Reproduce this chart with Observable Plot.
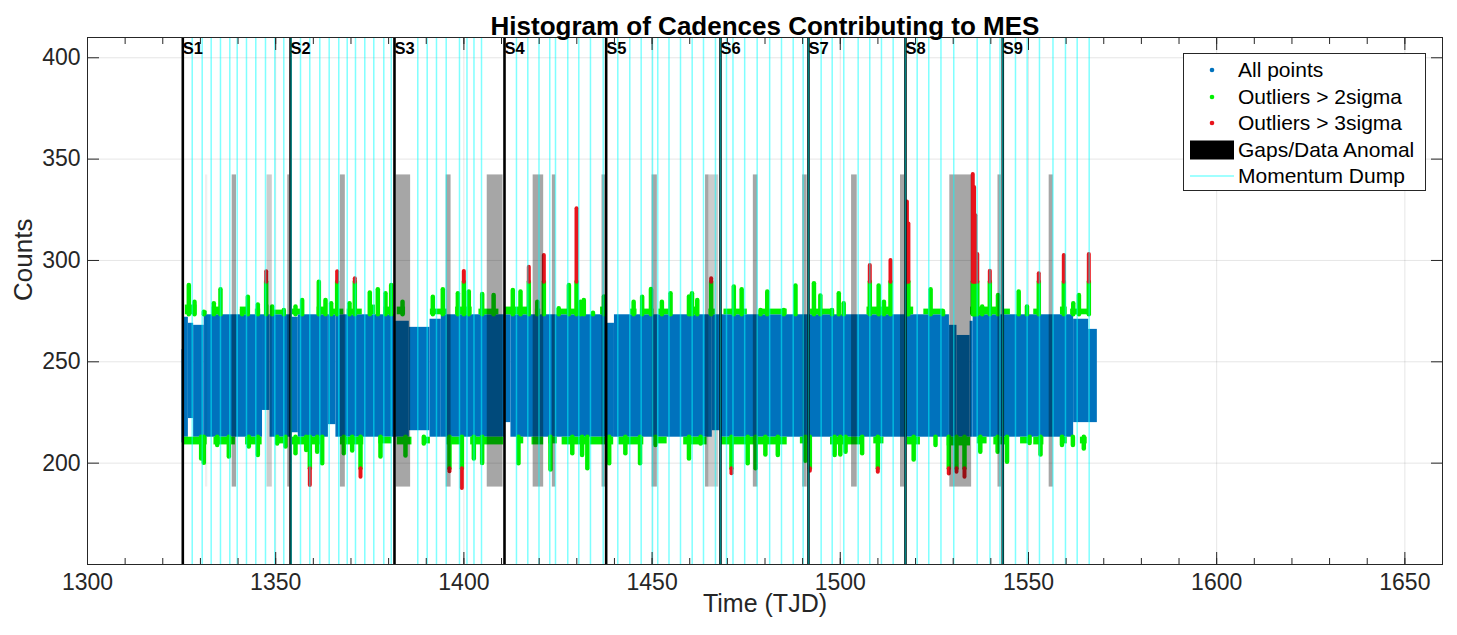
<!DOCTYPE html>
<html>
<head>
<meta charset="utf-8">
<script src="https://cdn.jsdelivr.net/npm/d3@7"></script>
<script src="https://cdn.jsdelivr.net/npm/@observablehq/plot@0.6"></script>
<style>
  html, body { margin: 0; padding: 0; background: #fff; }
  #wrap { position: relative; width: 1457px; height: 635px; font-family: "Liberation Sans", Arial, Helvetica, sans-serif; }
  #legend { position: absolute; left: 1183px; top: 53px; width: 243px; height: 138px; border: 1px solid #262626; background: #fff; box-sizing: border-box; }
  .row { position: absolute; left: 0; height: 26px; width: 100%; font-size: 21px; line-height: 26px; color: #000; white-space: nowrap; overflow: hidden; }
  .row svg { position: absolute; left: 0; top: 0; }
  .row span { position: absolute; left: 54px; top: 0; }
</style>
</head>
<body>
<div id="wrap"></div>
<script>
// ---------- data ----------
const title = "Histogram of Cadences Contributing to MES";
const xLabel = "Time (TJD)";
const yLabel = "Counts";
const xTicksMajor = [1300, 1350, 1400, 1450, 1500, 1550, 1600, 1650];
const xTicksMinor = d3.range(1300, 1661, 10);
const yTicks = [200, 250, 300, 350, 400];

// sigma thresholds (Counts)
const hi2 = 273.2, hi3 = 289.3, lo2 = 212.8, lo3 = 197.2;
// extent of the gap shading (Counts)
const gapLow = 188.2, gapHigh = 342.2;

const sectorNames = ["S1","S2","S3","S4","S5","S6","S7","S8","S9"];
const sectorStart = [1325.32, 1353.95, 1381.56, 1410.79, 1437.8, 1468.17, 1491.55, 1517.32, 1543.17];

const momentumDumps = [
  1327.82, 1330.47, 1332.86, 1335.33, 1337.81, 1339.77, 1342.24, 1344.71, 1347.29, 1349.76, 1352.15,
  1354.1, 1356.59, 1359.06, 1361.72, 1364.21, 1366.76, 1369.0, 1371.2, 1373.67, 1376.06, 1378.72, 1380.7,
  1387.75, 1390.25, 1392.72, 1395.3, 1398.83, 1400.82, 1402.68, 1404.68,
  1413.97, 1416.98, 1419.95, 1422.82, 1424.34, 1427.6, 1430.53, 1433.63, 1437.01,
  1440.89, 1444.08, 1447.1, 1450.11, 1451.51, 1454.49, 1457.55, 1460.65, 1463.66, 1466.84,
  1468.17, 1469.77, 1471.49, 1474.6, 1477.92, 1481.24, 1484.38, 1487.49, 1490.14,
  1491.55, 1494.92, 1497.85, 1500.93, 1504.75, 1507.84, 1510.94, 1514.05,
  1517.32, 1520.43, 1523.51, 1526.75, 1530.15, 1536.37, 1539.77, 1542.43,
  1543.17, 1546.55, 1549.65, 1552.92, 1556.51, 1559.83, 1562.94, 1566.13
];

// gaps / data anomalies [start, end] (TJD)
const gapsMain = [
  [1338.44, 1339.59], [1353.2, 1353.75], [1367.2, 1368.5], [1382.0, 1385.85], [1395.3, 1396.6],
  [1406.2, 1410.4], [1418.4, 1421.2], [1423.5, 1424.4], [1436.7, 1437.6], [1450.0, 1451.4],
  [1464.2, 1465.1], [1476.9, 1478.1], [1490.0, 1491.2], [1503.0, 1504.5], [1516.0, 1517.1],
  [1529.1, 1534.9], [1541.9, 1542.8], [1555.5, 1556.6]
];
const gapsLight = [[1347.7, 1349.1], [1465.1, 1467.7]];
const gapsFaint = [[1331.35, 1331.96]];

// body of the "All points" cloud: [start, end, low, high]
const bandStart = [1325.1, 1325.6, 1326.8, 1328.2, 1331.0, 1346.5, 1348.5, 1354.0, 1356.0, 1364.0, 1366.0, 1381.5, 1385.5, 1391.0, 1394.0, 1410.8, 1412.5, 1437.8, 1440.0, 1466.0, 1468.2, 1529.0, 1531.0, 1534.5, 1535.3, 1562.0, 1566.0];
const bandEnd   = [1325.6, 1326.8, 1328.2, 1331.0, 1346.5, 1348.5, 1354.0, 1356.0, 1364.0, 1366.0, 1381.5, 1385.5, 1391.0, 1394.0, 1410.8, 1412.5, 1437.8, 1440.0, 1466.0, 1468.2, 1529.0, 1531.0, 1534.5, 1535.3, 1562.0, 1566.0, 1568.3];
const bandLow   = [210, 212.8, 222, 212.8, 212.8, 226, 212.8, 215, 212.8, 219, 212.8, 212.8, 216, 212.8, 212.8, 220, 212.8, 212.8, 212.8, 216, 212.8, 212.8, 212.8, 212.8, 212.8, 220, 220];
const bandHigh  = [256, 272, 269, 268, 273.2, 273.2, 273.2, 272, 273.2, 273.2, 273.2, 270, 267, 271, 273.2, 273.2, 273.2, 269, 273.2, 273.2, 273.2, 268, 263, 270, 273.2, 271, 266];

// dense strips of >2 sigma points just outside the thresholds: [start, end, extreme value]
const fringeTop = [
  [1326.0, 1329.1, 278], [1330.9, 1331.8, 275], [1333.1, 1335.3, 277], [1340.6, 1343.3, 277], [1344.6, 1346.0, 276],
  [1347.3, 1348.2, 278], [1348.6, 1352.6, 275.5], [1354.4, 1357.5, 276], [1361.0, 1363.7, 277], [1364.6, 1368.1, 276],
  [1369.0, 1373.0, 276], [1375.2, 1376.5, 278], [1378.7, 1380.9, 277], [1382.3, 1384.5, 277], [1391.1, 1395.5, 276],
  [1397.8, 1402.2, 277], [1404.0, 1409.3, 276], [1411.0, 1417.2, 277], [1419.0, 1420.4, 276], [1424.8, 1432.3, 276],
  [1436.3, 1438.1, 277], [1444.3, 1446.0, 276], [1446.9, 1450.5, 276], [1451.8, 1455.3, 276], [1460.2, 1462.0, 277],
  [1465.1, 1466.8, 276], [1469.1, 1475.3, 276], [1478.8, 1485.9, 276], [1492.1, 1498.3, 276], [1507.1, 1513.3, 277],
  [1517.8, 1519.5, 277], [1522.2, 1527.5, 276], [1534.6, 1542.6, 277], [1543.4, 1545.2, 276], [1551.4, 1553.2, 276],
  [1558.5, 1560.3, 277], [1561.2, 1566.5, 276]
];
const fringeBottom = [
  [1325.6, 1331.8, 209], [1333.6, 1339.3, 209], [1342.0, 1346.4, 209], [1350.0, 1353.0, 209.5], [1354.4, 1362.3, 209],
  [1367.2, 1373.4, 209], [1377.4, 1380.9, 209.5], [1382.3, 1386.2, 209], [1389.4, 1391.1, 209.5], [1395.5, 1400.0, 209],
  [1401.8, 1410.6, 209], [1414.2, 1415.9, 209.5], [1418.1, 1421.2, 209], [1422.6, 1424.8, 209.5], [1426.1, 1432.8, 209],
  [1433.6, 1439.8, 209], [1441.2, 1447.8, 209], [1450.9, 1454.0, 209.5], [1458.4, 1464.6, 209], [1468.2, 1485.9, 209],
  [1489.4, 1492.1, 209.5], [1497.4, 1505.4, 209], [1508.9, 1511.6, 209.5], [1517.8, 1521.3, 209], [1528.4, 1534.6, 208.5],
  [1536.4, 1539.0, 209.5], [1540.8, 1544.3, 209], [1547.9, 1550.5, 209.5], [1551.4, 1554.1, 209], [1558.5, 1560.3, 209.5],
  [1563.8, 1565.6, 209.5]
];

// >2 sigma outliers above: [time, highest value]
const greenUp = [
  [1326.92, 287.7], [1328.43, 279.4], [1330.91, 274.5], [1333.56, 278.6], [1335.33, 285.5], [1341.09, 275.7],
  [1342.6, 281.9], [1345.25, 278], [1349.06, 277], [1352.16, 275.3], [1355.26, 277], [1357.03, 280.3],
  [1361.46, 289.3], [1363.23, 280.3], [1364.74, 278.6], [1369.61, 278.6], [1375.0, 284], [1377.13, 285.5],
  [1379.17, 283.6], [1380.68, 287.7], [1383.7, 279.4], [1391.74, 281.9], [1394.4, 285.5], [1398.4, 283.6],
  [1401.3, 284.4], [1404.86, 283.2], [1407.9, 282.7], [1413.0, 285.2], [1415.04, 284.4], [1419.5, 279.4],
  [1425.2, 276.2], [1427.9, 287.6], [1431.0, 279.4], [1431.86, 280.3], [1434.3, 273.9], [1437.2, 282],
  [1445.1, 279.4], [1447.36, 281.9], [1449.7, 285.7], [1452.6, 279.4], [1454.9, 283.6], [1459.8, 282],
  [1460.6, 283.6], [1462.0, 280.3], [1471.71, 286.9], [1473.8, 285.5], [1478.8, 275.3], [1480.6, 284.4],
  [1485.0, 275.3], [1488.1, 287.4], [1493.0, 288.5], [1494.7, 282.5], [1497.8, 275.3], [1499.6, 283.6],
  [1500.9, 278.6], [1510.2, 287.4], [1511.6, 279.4], [1524.0, 285.5], [1527.3, 274.8], [1537.7, 277],
  [1541.9, 282.7], [1547.4, 284.4], [1549.6, 277], [1561.9, 278.6], [1563.4, 282.7]
];
// >2 sigma outliers below: [time, lowest value]
const greenDown = [
  [1330.2, 202], [1330.9, 200], [1334.45, 208.7], [1337.55, 203], [1342.86, 208], [1345.25, 203.8],
  [1350.39, 209.5], [1352.6, 208], [1355.26, 204.6], [1358.1, 206.2], [1361.02, 205.4], [1362.35, 199.7],
  [1368.1, 204.6], [1370.32, 206], [1377.84, 203], [1384.48, 203.5], [1389.35, 209.5], [1402.64, 202],
  [1404.85, 199.8], [1414.5, 199.7], [1423.0, 196.6], [1428.8, 204.6], [1431.4, 203.8], [1432.8, 197.2],
  [1438.6, 199.7], [1442.9, 204.6], [1446.8, 199.7], [1450.9, 208.7], [1459.8, 202.1], [1462.9, 209.5],
  [1475.4, 199.7], [1477.5, 197.2], [1480.1, 204], [1483.4, 203.8], [1490.7, 201], [1498.5, 203.8],
  [1500.0, 204], [1501.4, 205.4], [1505.8, 204.6], [1519.5, 201.5], [1525.3, 208.7], [1537.2, 205.4],
  [1541.8, 205.4], [1544.3, 200.5], [1550.3, 209.7], [1553.2, 204], [1558.9, 208.7], [1561.8, 208.7],
  [1564.7, 207]
];
// >3 sigma outliers above: [time, highest value]
const redUp = [
  [1347.47, 294.4], [1366.33, 294.4], [1371.02, 291], [1399.98, 294.6], [1417.25, 296.7], [1421.24, 302.5],
  [1429.92, 325.5], [1465.69, 291], [1507.84, 297.5], [1513.34, 300], [1517.7, 328.8], [1518.1, 318],
  [1535.2, 342.4], [1535.55, 336], [1535.9, 322], [1536.4, 303], [1539.73, 294.7], [1552.74, 293.4],
  [1559.39, 302.5], [1566.03, 303]
];
// >3 sigma outliers below: [time, lowest value]
const redDown = [
  [1359.07, 189], [1372.53, 193], [1396.17, 195.8], [1399.45, 187.5], [1471.09, 194.8], [1491.91, 196],
  [1509.97, 195.5], [1528.83, 194.7], [1530.87, 195.5], [1533.0, 193.1]
];

// ---------- drawing ----------
const blue = "#0072BD", green = "#00F000", red = "#E8141C", cyan = "#00FFFF", frameColor = "#262626";
const band = bandStart.map((s, i) => ({s, e: bandEnd[i], lo: bandLow[i], hi: bandHigh[i]}));
const sectors = sectorStart.map((t, i) => ({t, name: sectorNames[i]}));
const gapRows = a => a.map(([s, e]) => ({s, e}));
const fringeRows = a => a.map(([s, e, v]) => ({s, e, v}));

const chart = Plot.plot({
  width: 1457, height: 635,
  marginLeft: 87, marginRight: 15, marginTop: 37, marginBottom: 71,
  style: {fontFamily: "'Liberation Sans', Arial, Helvetica, sans-serif", color: "#262626", background: "#fff"},
  x: {domain: [1300, 1660], label: null},
  y: {domain: [150, 410], label: null},
  marks: [
    Plot.gridX(xTicksMajor, {stroke: "#000", strokeOpacity: 0.1}),
    Plot.gridY(yTicks, {stroke: "#000", strokeOpacity: 0.1}),
    Plot.rect(band, {x1: "s", x2: "e", y1: "lo", y2: "hi", fill: blue}),
    Plot.rect(fringeRows(fringeTop), {x1: "s", x2: "e", y1: hi2, y2: "v", fill: green}),
    Plot.rect(fringeRows(fringeBottom), {x1: "s", x2: "e", y1: lo2, y2: "v", fill: green}),
    Plot.ruleX(greenUp, {x: d => d[0], y1: hi2, y2: d => d[1], stroke: green, strokeWidth: 4.5, strokeLinecap: "round"}),
    Plot.ruleX(greenDown, {x: d => d[0], y1: lo2, y2: d => d[1], stroke: green, strokeWidth: 4.5, strokeLinecap: "round"}),
    Plot.ruleX(redUp, {x: d => d[0], y1: hi2, y2: hi3, stroke: green, strokeWidth: 4.5, strokeLinecap: "round"}),
    Plot.ruleX(redDown, {x: d => d[0], y1: lo2, y2: lo3, stroke: green, strokeWidth: 4.5, strokeLinecap: "round"}),
    Plot.ruleX(redUp, {x: d => d[0], y1: hi3, y2: d => d[1], stroke: red, strokeWidth: 4, strokeLinecap: "round"}),
    Plot.ruleX(redDown, {x: d => d[0], y1: lo3, y2: d => d[1], stroke: red, strokeWidth: 4, strokeLinecap: "round"}),
    Plot.rect(gapRows(gapsMain), {x1: "s", x2: "e", y1: gapLow, y2: gapHigh, fill: "#000", fillOpacity: 0.35}),
    Plot.rect(gapRows(gapsLight), {x1: "s", x2: "e", y1: gapLow, y2: gapHigh, fill: "#000", fillOpacity: 0.2}),
    Plot.rect(gapRows(gapsFaint), {x1: "s", x2: "e", y1: gapLow, y2: gapHigh, fill: "#000", fillOpacity: 0.06}),
    Plot.ruleX(sectors, {x: "t", stroke: "#000", strokeWidth: 2.6}),
    Plot.ruleX(momentumDumps, {stroke: cyan, strokeOpacity: 0.5, strokeWidth: 1.5}),
    Plot.text(sectors, {x: "t", text: "name", frameAnchor: "top", dy: 5, dx: 0, lineAnchor: "top", textAnchor: "start", fontWeight: "bold", fontSize: 16.5, fill: "#000"}),
    // axes
    Plot.axisX(xTicksMajor, {anchor: "bottom", tickSize: 0, tickPadding: 9, fontSize: 23, label: null, tickFormat: d => String(d)}),
    Plot.axisY(yTicks, {anchor: "left", tickSize: 0, tickPadding: 7, fontSize: 23, label: null}),
    Plot.axisX(xTicksMinor, {anchor: "bottom", tickSize: 6, dy: -6, tickFormat: () => "", label: null, stroke: frameColor}),
    Plot.axisX(xTicksMinor, {anchor: "top", tickSize: 6, dy: 6, tickFormat: () => "", label: null, stroke: frameColor}),
    Plot.axisX(xTicksMajor, {anchor: "bottom", tickSize: 12, dy: -12, tickFormat: () => "", label: null, stroke: frameColor}),
    Plot.axisX(xTicksMajor, {anchor: "top", tickSize: 12, dy: 12, tickFormat: () => "", label: null, stroke: frameColor}),
    Plot.axisY(yTicks, {anchor: "left", tickSize: 12, dx: 12, tickFormat: () => "", label: null, stroke: frameColor}),
    Plot.axisY(yTicks, {anchor: "right", tickSize: 12, dx: -12, tickFormat: () => "", label: null, stroke: frameColor}),
    Plot.frame({stroke: frameColor}),
    Plot.text([title], {frameAnchor: "top", dy: -21, fontWeight: "bold", fontSize: 26, fill: "#000"}),
    Plot.text([xLabel], {frameAnchor: "bottom", dy: 47, fontSize: 25, fill: "#262626"}),
    Plot.text([yLabel], {frameAnchor: "left", dx: -64, rotate: -90, fontSize: 26, fill: "#262626"})
  ]
});

const wrap = document.getElementById("wrap");
wrap.appendChild(chart);

// legend
const legendItems = [
  {label: "All points", kind: "dot", color: blue},
  {label: "Outliers > 2sigma", kind: "dot", color: green},
  {label: "Outliers > 3sigma", kind: "dot", color: red},
  {label: "Gaps/Data Anomal", kind: "rect", color: "#000"},
  {label: "Momentum Dump", kind: "line", color: "#80FFFF"}
];
const legend = document.createElement("div");
legend.id = "legend";
legendItems.forEach((it, i) => {
  const row = document.createElement("div");
  row.className = "row";
  row.style.top = (3 + i * 26.6) + "px";
  const ns = "http://www.w3.org/2000/svg";
  const s = document.createElementNS(ns, "svg");
  s.setAttribute("width", 54); s.setAttribute("height", 26);
  let el;
  if (it.kind === "dot") {
    el = document.createElementNS(ns, "circle");
    el.setAttribute("cx", 28); el.setAttribute("cy", 13); el.setAttribute("r", 2.3); el.setAttribute("fill", it.color);
  } else if (it.kind === "rect") {
    el = document.createElementNS(ns, "rect");
    el.setAttribute("x", 6); el.setAttribute("y", 3.5); el.setAttribute("width", 44); el.setAttribute("height", 19); el.setAttribute("fill", it.color);
  } else {
    el = document.createElementNS(ns, "line");
    el.setAttribute("x1", 6); el.setAttribute("x2", 50); el.setAttribute("y1", 13); el.setAttribute("y2", 13);
    el.setAttribute("stroke", it.color); el.setAttribute("stroke-width", 1.5);
  }
  s.appendChild(el);
  row.appendChild(s);
  const sp = document.createElement("span");
  sp.textContent = it.label;
  row.appendChild(sp);
  legend.appendChild(row);
});
wrap.appendChild(legend);
</script>
</body>
</html>
